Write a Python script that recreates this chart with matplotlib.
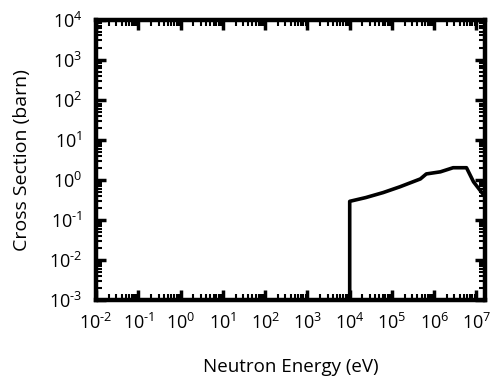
import matplotlib
matplotlib.use("Agg")
import matplotlib.pyplot as plt
from matplotlib.ticker import LogLocator, NullFormatter, FuncFormatter
import math

plt.rcParams['font.family'] = ['Open Sans', 'DejaVu Sans']
plt.rcParams['mathtext.fontset'] = 'custom'
plt.rcParams['mathtext.rm'] = 'Open Sans'
plt.rcParams['mathtext.it'] = 'Open Sans'

energy = [1e-3, 1e4, 1e4, 2.4e4, 6.2e4, 1.55e5, 4.7e5, 6.5e5, 1.4e6, 2.8e6, 5.8e6, 8.5e6, 1.4e7, 2e7]
xs = [1e-5, 1e-5, 0.29, 0.36, 0.48, 0.67, 1.05, 1.4, 1.58, 2.0, 2.0, 0.89, 0.45, 0.33]


def fmt(v, pos):
    n = int(round(math.log10(v)))
    if n < 0:
        return r'$10^{\text{-}%d}$' % (-n)
    return r'$10^{%d}$' % n


fig = plt.figure(figsize=(4.93, 3.81), dpi=100)
ax = fig.add_axes([0.195, 0.2126, 0.789, 0.7362])
ax.plot(energy, xs, color='black', lw=2.6)
ax.set_xscale('log')
ax.set_yscale('log')
ax.set_xlim(1e-2, 1.6e7)
ax.set_ylim(1e-3, 1e4)
ax.xaxis.set_major_locator(LogLocator(base=10, numticks=20))
ax.yaxis.set_major_locator(LogLocator(base=10, numticks=20))
ax.xaxis.set_minor_locator(LogLocator(base=10, subs=range(2, 10), numticks=20))
ax.yaxis.set_minor_locator(LogLocator(base=10, subs=range(2, 10), numticks=20))
ax.xaxis.set_major_formatter(FuncFormatter(fmt))
ax.yaxis.set_major_formatter(FuncFormatter(fmt))
ax.xaxis.set_minor_formatter(NullFormatter())
ax.yaxis.set_minor_formatter(NullFormatter())
for s in ax.spines.values():
    s.set_linewidth(3.2)
ax.tick_params(which='both', direction='in', top=True, right=True, labelsize=13)
ax.tick_params(which='major', length=7, width=2.5)
ax.tick_params(which='minor', length=4, width=1.5)
ax.tick_params(axis='x', pad=9)
ax.tick_params(axis='y', pad=10)
ax.set_xlabel('Neutron Energy (eV)', fontsize=13.5, labelpad=18)
ax.set_ylabel('Cross Section (barn)', fontsize=14, labelpad=13)
fig.savefig('out.png', dpi=100)
